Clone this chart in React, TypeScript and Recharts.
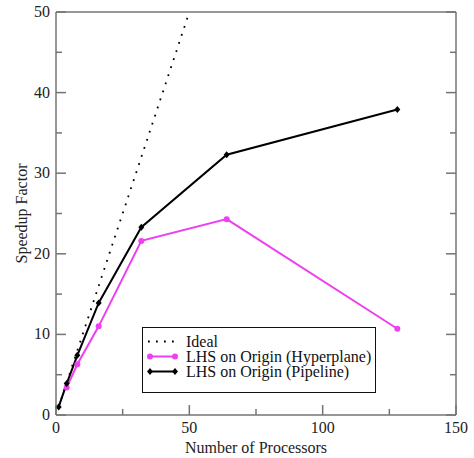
import { LineChart, Line, XAxis, YAxis, Legend, Label } from 'recharts';

const idealProcs = [1, 2, 4, 8, 16, 32, 64, 128];
const idealSpeedup = [1, 2, 4, 8, 16, 32, 64, 128];
const hyperplaneProcs = [4, 8, 16, 32, 64, 128];
const hyperplaneSpeedup = [3.4, 6.3, 11.0, 21.6, 24.3, 10.7];
const pipelineProcs = [1, 4, 8, 16, 32, 64, 128];
const pipelineSpeedup = [1.0, 3.9, 7.4, 13.9, 23.3, 32.3, 37.9];

const xTicks = [0, 25, 50, 75, 100, 125, 150];
const yTicks = [0, 5, 10, 15, 20, 25, 30, 35, 40, 45, 50];

const FONT = "'Liberation Serif', 'DejaVu Serif', serif";
const FRAME = '#747474';
const MAGENTA = '#ee3ff0';

const toRows = (xs: number[], ys: number[]) => xs.map((p, i) => ({ p, s: ys[i] }));
const idealData = toRows(idealProcs, idealSpeedup);
const hyperData = toRows(hyperplaneProcs, hyperplaneSpeedup);
const pipeData = toRows(pipelineProcs, pipelineSpeedup);

// inward tick marks; labels only on the major ticks
function makeTick(side: 'bottom' | 'top' | 'left' | 'right', major: number, showLabel: boolean) {
  return (props: any) => {
    const { x, y, payload } = props;
    const v = payload.value as number;
    const isMajor = v % major === 0;
    const len = isMajor ? 10 : 6;
    let line;
    if (side === 'bottom') line = <line x1={x} y1={y} x2={x} y2={y - len} />;
    else if (side === 'top') line = <line x1={x} y1={y} x2={x} y2={y + len} />;
    else if (side === 'left') line = <line x1={x} y1={y} x2={x + len} y2={y} />;
    else line = <line x1={x} y1={y} x2={x - len} y2={y} />;
    return (
      <g>
        <g stroke={FRAME} strokeWidth={1.5}>{line}</g>
        {showLabel && isMajor && side === 'bottom' && (
          <text x={x} y={y + 18} textAnchor="middle" style={{ fontFamily: FONT, fontSize: 16 }} fill="#222">
            {v}
          </text>
        )}
        {showLabel && isMajor && side === 'left' && (
          <text x={x - 6} y={y + 5} textAnchor="end" style={{ fontFamily: FONT, fontSize: 16 }} fill="#222">
            {v}
          </text>
        )}
      </g>
    );
  };
}

const Diamond = (props: any) => {
  const { cx, cy } = props;
  if (cx == null || cy == null) return null;
  return <polygon points={`${cx},${cy - 3.5} ${cx + 3},${cy} ${cx},${cy + 3.5} ${cx - 3},${cy}`} fill="#000" />;
};

function LegendBox() {
  const row = { display: 'flex', alignItems: 'center', height: 15, lineHeight: '15px', whiteSpace: 'nowrap' } as const;
  return (
    <div
      style={{
        boxSizing: 'border-box',
        border: '1px solid #111',
        background: '#fff',
        padding: '6px 2px 13px 4px',
        fontFamily: FONT,
        fontSize: 16,
        color: '#111',
        width: 234,
      }}
    >
      <div style={row}>
        <svg width={39} height={15} style={{ flex: 'none' }}>
          <line x1={1} y1={7.5} x2={28} y2={7.5} stroke="#000" strokeWidth={1.8} strokeDasharray="1.8 6.2" />
        </svg>
        <span>Ideal</span>
      </div>
      <div style={row}>
        <svg width={39} height={15} style={{ flex: 'none' }}>
          <line x1={3} y1={7.5} x2={28} y2={7.5} stroke={MAGENTA} strokeWidth={2} />
          <circle cx={3} cy={7.5} r={3} fill={MAGENTA} />
          <circle cx={28} cy={7.5} r={3} fill={MAGENTA} />
        </svg>
        <span>LHS on Origin (Hyperplane)</span>
      </div>
      <div style={row}>
        <svg width={39} height={15} style={{ flex: 'none' }}>
          <line x1={3} y1={7.5} x2={28} y2={7.5} stroke="#000" strokeWidth={2} />
          <polygon points="3,4 6,7.5 3,11 0,7.5" fill="#000" />
          <polygon points="28,4 31,7.5 28,11 25,7.5" fill="#000" />
        </svg>
        <span>LHS on Origin (Pipeline)</span>
      </div>
    </div>
  );
}

export default function App() {
  return (
    <div style={{ position: 'absolute', left: 0, top: 0, background: '#fff', fontFamily: FONT }}>
      <LineChart width={474} height={458} margin={{ top: 0, right: 0, bottom: 0, left: 0 }}>
        <XAxis
          xAxisId="b"
          type="number"
          dataKey="p"
          domain={[0, 150]}
          ticks={xTicks}
          interval={0}
          height={43}
          tickSize={0}
          tickMargin={0}
          tickLine={false}
          axisLine={{ stroke: FRAME, strokeWidth: 1.5 }}
          tick={makeTick('bottom', 50, true)}
        >
          <Label
            value="Number of Processors"
            position="insideBottom"
            offset={5}
            fill="#222"
            style={{ fontFamily: FONT, fontSize: 16 }}
          />
        </XAxis>
        <XAxis
          xAxisId="t"
          orientation="top"
          type="number"
          dataKey="p"
          domain={[0, 150]}
          ticks={xTicks}
          interval={0}
          height={12}
          tickSize={0}
          tickMargin={0}
          tickLine={false}
          axisLine={{ stroke: FRAME, strokeWidth: 1.5 }}
          tick={makeTick('top', 50, false)}
        />
        <YAxis
          yAxisId="l"
          type="number"
          domain={[0, 50]}
          allowDataOverflow
          ticks={yTicks}
          interval={0}
          width={56}
          tickSize={0}
          tickMargin={0}
          tickLine={false}
          axisLine={{ stroke: FRAME, strokeWidth: 1.5 }}
          tick={makeTick('left', 10, true)}
        >
          <Label
            value="Speedup Factor"
            angle={-90}
            position="insideLeft"
            offset={21}
            fill="#222"
            style={{ textAnchor: 'middle', fontFamily: FONT, fontSize: 16 }}
          />
        </YAxis>
        <YAxis
          yAxisId="r"
          orientation="right"
          type="number"
          domain={[0, 50]}
          allowDataOverflow
          ticks={yTicks}
          interval={0}
          width={18}
          tickSize={0}
          tickMargin={0}
          tickLine={false}
          axisLine={{ stroke: FRAME, strokeWidth: 1.5 }}
          tick={makeTick('right', 10, false)}
        />
        <Legend
          layout="vertical"
          align="center"
          verticalAlign="middle"
          content={() => <LegendBox />}
          wrapperStyle={{ position: 'absolute', left: 142, top: 327, width: 234 }}
        />
        <Line
          xAxisId="b"
          yAxisId="l"
          data={idealData}
          dataKey="s"
          name="Ideal"
          type="linear"
          stroke="#000"
          strokeWidth={1.8}
          strokeDasharray="1.8 6.7"
          dot={false}
          activeDot={false}
          isAnimationActive={false}
        />
        <Line
          xAxisId="b"
          yAxisId="l"
          data={hyperData}
          dataKey="s"
          name="LHS on Origin (Hyperplane)"
          type="linear"
          stroke={MAGENTA}
          strokeWidth={2}
          dot={{ r: 3, fill: MAGENTA, stroke: MAGENTA, strokeWidth: 0 }}
          activeDot={false}
          isAnimationActive={false}
        />
        <Line
          xAxisId="b"
          yAxisId="l"
          data={pipeData}
          dataKey="s"
          name="LHS on Origin (Pipeline)"
          type="linear"
          stroke="#000"
          strokeWidth={2}
          dot={<Diamond />}
          activeDot={false}
          isAnimationActive={false}
        />
      </LineChart>
    </div>
  );
}
